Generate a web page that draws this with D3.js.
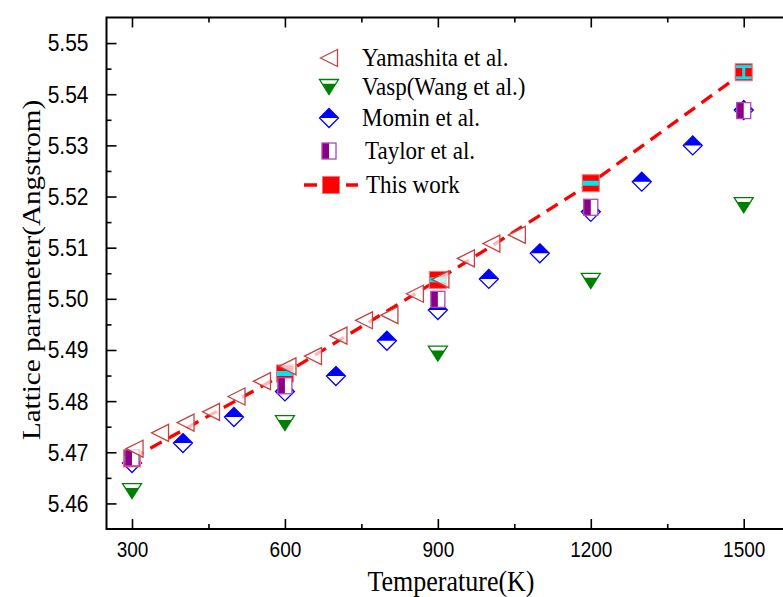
<!DOCTYPE html>
<html>
<head>
<meta charset="utf-8">
<script src="https://cdn.jsdelivr.net/npm/d3@7/dist/d3.min.js"></script>
<style>
  body { margin: 0; background: #fff; }
  svg { display: block; }
  .tick text { font-family: "Liberation Sans", Arial, sans-serif; fill: #000; }
  .title { font-family: "Liberation Serif", "Times New Roman", serif; fill: #000; }
</style>
</head>
<body>
<div id="chart"></div>
<script>
// Data
const yamaT   = [305, 355, 405, 455, 505, 555, 605, 655, 705, 755, 805, 855, 905, 955, 1005, 1055];
const yamaA   = [5.4707, 5.4738, 5.4758, 5.4779, 5.4809, 5.4839, 5.4868, 5.4888, 5.4928, 5.4958, 5.4968, 5.5010, 5.5038, 5.5079, 5.5108, 5.5125];
const vaspT   = [300, 600, 900, 1200, 1500];
const vaspA   = [5.4624, 5.4757, 5.4893, 5.5035, 5.5183];
const mominT  = [300, 400, 500, 600, 700, 800, 900, 1000, 1100, 1200, 1300, 1400, 1500];
const mominA  = [5.4679, 5.4718, 5.4769, 5.4819, 5.4849, 5.4918, 5.4978, 5.5039, 5.5089, 5.5170, 5.5229, 5.5300, 5.5369];
const taylorT = [300, 600, 900, 1200, 1500];
const taylorA = [5.4689, 5.4830, 5.4999, 5.5179, 5.5368];
const workT   = [300, 600, 900, 1200, 1500];
const workA   = [5.4688, 5.4854, 5.5037, 5.5226, 5.5443];
const workErr = [0.0002, 0.0002, 0.0002, 0.0002, 0.0011];
const xTicks  = [300, 600, 900, 1200, 1500];
const yTicks  = [5.46, 5.47, 5.48, 5.49, 5.50, 5.51, 5.52, 5.53, 5.54, 5.55];
const legendNames = ["Yamashita et al.", "Vasp(Wang et al.)", "Momin et al.", "Taylor et al.", "This work"];

const W = 783, H = 597;
const STRETCH = 1.17; // the picture's text is a little taller than wide
const svg = d3.select("#chart").append("svg").attr("width", W).attr("height", H);

const x = d3.scaleLinear().domain([250, 1600]).range([106.5, 794.7]);
const y = d3.scaleLinear().domain([5.455, 5.555]).range([529, 17.5]);

const zip = (a, b) => a.map((v, i) => [v, b[i]]);

// Marker shapes (centered at 0,0)
function triLeft(s) { return `M${-s/2},0L${s/2},${-s/2}L${s/2},${s/2}Z`; }
function triDown(w, h) { return `M${-w/2},${-h/2}L${w/2},${-h/2}L0,${h/2}Z`; }
function triDownFill(w, h) {
  // lower part of the down triangle, top ~29% left open
  const f = 0.29, yc = -h/2 + f*h, hw = (w/2)*(1 - f);
  return `M${-hw},${yc}L${hw},${yc}L0,${h/2}Z`;
}
function diamond(s) { return `M0,${-s/2}L${s/2},0L0,${s/2}L${-s/2},0Z`; }
function diamondTop(s) { return `M0,${-s/2}L${s/2},0L${-s/2},0Z`; }

function drawYama(g) {
  g.append("path").attr("d", triLeft(17))
    .attr("fill", "#fff").attr("fill-opacity", 0.72)
    .attr("stroke", "#c44444").attr("stroke-width", 1.3);
}
function drawVasp(g) {
  g.append("path").attr("d", triDown(19, 15)).attr("fill", "#fff").attr("stroke", "#008000").attr("stroke-width", 1.3);
  g.append("path").attr("d", triDownFill(19, 15)).attr("fill", "#008000");
}
function drawMomin(g) {
  g.append("path").attr("d", diamond(19)).attr("fill", "#fff").attr("stroke", "#0000ff").attr("stroke-width", 1.3);
  g.append("path").attr("d", diamondTop(19)).attr("fill", "#0000ff");
}
function drawTaylor(g) {
  g.append("rect").attr("x", -7).attr("y", -8).attr("width", 14).attr("height", 16).attr("fill", "#fff");
  g.append("rect").attr("x", -7).attr("y", -8).attr("width", 7).attr("height", 16).attr("fill", "#8b008b");
  g.append("rect").attr("x", -7).attr("y", -8).attr("width", 14).attr("height", 16)
    .attr("fill", "none").attr("stroke", "#b048b0").attr("stroke-width", 1.3);
}
function drawWork(g) {
  g.append("rect").attr("x", -8.5).attr("y", -8.5).attr("width", 17).attr("height", 17)
    .attr("fill", "#ff0000").attr("stroke", "#ff7070").attr("stroke-width", 1);
}

const plot = svg.append("g");

function series(cls, data, drawFn) {
  plot.append("g").attr("class", cls)
    .selectAll("g").data(data).join("g")
    .attr("transform", d => `translate(${x(d[0])},${y(d[1])})`)
    .each(function() { drawFn(d3.select(this)); });
}

// Draw order follows the overlaps in the picture
series("vasp", zip(vaspT, vaspA), drawVasp);
series("momin", zip(mominT, mominA), drawMomin);

// This work: dashed line, squares, cyan error bars
plot.append("path")
  .datum(zip(workT, workA))
  .attr("fill", "none")
  .attr("stroke", "#ff0000")
  .attr("stroke-width", 3.3)
  .attr("stroke-dasharray", "13,8")
  .attr("d", d3.line().x(d => x(d[0])).y(d => y(d[1])));
series("work", zip(workT, workA), drawWork);
const errG = plot.append("g").attr("class", "err")
  .selectAll("g").data(workT.map((t, i) => ({t: t, a: workA[i], e: workErr[i]}))).join("g")
  .attr("stroke", "#00e5ee").attr("stroke-width", 3);
errG.append("line").attr("x1", d => x(d.t)).attr("x2", d => x(d.t))
  .attr("y1", d => y(d.a - d.e)).attr("y2", d => y(d.a + d.e));
errG.append("line").attr("x1", d => x(d.t) - 8).attr("x2", d => x(d.t) + 8)
  .attr("y1", d => y(d.a - d.e)).attr("y2", d => y(d.a - d.e));
errG.append("line").attr("x1", d => x(d.t) - 8).attr("x2", d => x(d.t) + 8)
  .attr("y1", d => y(d.a + d.e)).attr("y2", d => y(d.a + d.e));

series("taylor", zip(taylorT, taylorA), drawTaylor);
series("yama", zip(yamaT, yamaA), drawYama);

// Axes
const x0 = x.range()[0], x1 = x.range()[1], yb = y.range()[0], yt = y.range()[1];
const xMinor = xTicks.slice(0, -1).map(t => t + 150);
const yMinor = yTicks.map(v => v + 0.005).filter(v => v < 5.555);

function styleAxis(g) {
  g.select(".domain").remove();
  g.selectAll(".tick line").attr("stroke", "#000").attr("stroke-width", 1.6);
}

svg.append("g").attr("transform", `translate(0,${yb})`)
  .call(d3.axisBottom(x).tickValues(xTicks).tickSize(-10).tickPadding(10.3).tickFormat(d3.format("d")))
  .call(styleAxis)
  .call(g => g.selectAll("text").attr("font-size", 19).attr("transform", `scale(1,${STRETCH})`));
svg.append("g").attr("transform", `translate(0,${yb})`)
  .call(d3.axisBottom(x).tickValues(xMinor).tickSize(-5).tickFormat(""))
  .call(styleAxis);
svg.append("g").attr("transform", `translate(0,${yt})`)
  .call(d3.axisTop(x).tickValues(xTicks).tickSize(-10).tickFormat(""))
  .call(styleAxis);
svg.append("g").attr("transform", `translate(0,${yt})`)
  .call(d3.axisTop(x).tickValues(xMinor).tickSize(-5).tickFormat(""))
  .call(styleAxis);
svg.append("g").attr("transform", `translate(${x0},0)`)
  .call(d3.axisLeft(y).tickValues(yTicks).tickSize(-10).tickPadding(18).tickFormat(d3.format(".2f")))
  .call(styleAxis)
  .call(g => g.selectAll("text").attr("font-size", 21).attr("transform", `scale(1,${STRETCH})`));
svg.append("g").attr("transform", `translate(${x0},0)`)
  .call(d3.axisLeft(y).tickValues(yMinor).tickSize(-5).tickFormat(""))
  .call(styleAxis);

// Frame
svg.append("rect")
  .attr("x", x0).attr("y", yt).attr("width", x1 - x0).attr("height", yb - yt)
  .attr("fill", "none").attr("stroke", "#000").attr("stroke-width", 2);

// Axis titles
svg.append("text").attr("class", "title")
  .attr("transform", `translate(451,591) scale(1,${STRETCH})`).attr("text-anchor", "middle")
  .attr("font-size", 26).text("Temperature(K)");
svg.append("text").attr("class", "title")
  .attr("transform", "translate(40,270) rotate(-90) scale(1.12,1)")
  .attr("text-anchor", "middle")
  .attr("font-size", 26).text("Lattice parameter(Angstrom)");

// Legend
const legendY = [58, 87, 118, 151, 185];
const legendX = [362, 362, 362, 365, 366];
const legendDraw = [drawYama, drawVasp, drawMomin, drawTaylor, drawWork];
const legend = svg.append("g").attr("class", "legend");
legendNames.forEach((name, i) => {
  if (i === 4) {
    legend.append("line").attr("x1", 304).attr("x2", 358)
      .attr("y1", legendY[i]).attr("y2", legendY[i])
      .attr("stroke", "#ff0000").attr("stroke-width", 3.3).attr("stroke-dasharray", "13,8");
    legend.append("g").attr("transform", `translate(331,${legendY[i]})`).call(drawWork);
  } else {
    legend.append("g").attr("transform", `translate(329,${legendY[i]})`).call(legendDraw[i]);
  }
  legend.append("text").attr("class", "title")
    .attr("transform", `translate(${legendX[i]},${legendY[i]}) scale(1,1.06)`)
    .attr("dy", "0.33em")
    .attr("font-size", 23).text(name);
});
</script>
</body>
</html>
